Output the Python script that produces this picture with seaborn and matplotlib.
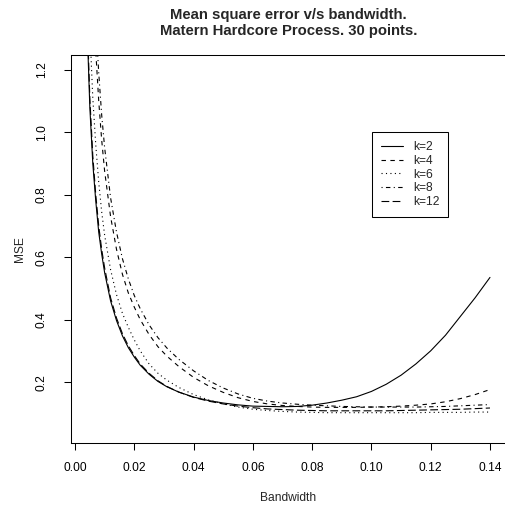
import matplotlib
matplotlib.use("Agg")
import matplotlib.pyplot as plt
import seaborn as sns
import pandas as pd

# ---- data ----
bandwidth = [0.004, 0.005, 0.006, 0.007, 0.008, 0.009, 0.010, 0.012, 0.014, 0.016,
             0.018, 0.020, 0.022, 0.025, 0.028, 0.031, 0.035, 0.040, 0.045, 0.050,
             0.055, 0.060, 0.065, 0.070, 0.075, 0.080, 0.085, 0.090, 0.095, 0.100,
             0.105, 0.110, 0.115, 0.120, 0.125, 0.130, 0.135, 0.140]

mse_k2 = [1.36, 1.08, 0.90, 0.78, 0.68, 0.61, 0.55, 0.46, 0.397, 0.348,
          0.310, 0.280, 0.254, 0.225, 0.202, 0.185, 0.168, 0.152, 0.141, 0.133,
          0.127, 0.123, 0.122, 0.121, 0.122, 0.126, 0.133, 0.142, 0.153, 0.170,
          0.193, 0.222, 0.258, 0.300, 0.350, 0.410, 0.470, 0.535]

mse_k4 = [2.20, 1.76, 1.47, 1.26, 1.10, 0.975, 0.875, 0.73, 0.625, 0.545,
          0.485, 0.440, 0.400, 0.352, 0.313, 0.283, 0.250, 0.215, 0.188, 0.167,
          0.150, 0.138, 0.130, 0.125, 0.122, 0.120, 0.119, 0.119, 0.119, 0.120,
          0.121, 0.123, 0.126, 0.130, 0.137, 0.147, 0.160, 0.176]

mse_k6 = [1.65, 1.33, 1.11, 0.96, 0.84, 0.745, 0.67, 0.56, 0.48, 0.42,
          0.375, 0.335, 0.300, 0.258, 0.228, 0.206, 0.183, 0.160, 0.143, 0.130,
          0.120, 0.113, 0.109, 0.106, 0.104, 0.103, 0.102, 0.102, 0.102, 0.102,
          0.102, 0.102, 0.102, 0.103, 0.103, 0.103, 0.104, 0.104]

mse_k8 = [2.40, 1.90, 1.58, 1.36, 1.19, 1.055, 0.95, 0.79, 0.68, 0.595,
          0.530, 0.477, 0.435, 0.383, 0.342, 0.309, 0.273, 0.236, 0.205, 0.181,
          0.162, 0.148, 0.139, 0.133, 0.129, 0.126, 0.124, 0.122, 0.121, 0.120,
          0.120, 0.120, 0.120, 0.121, 0.122, 0.124, 0.126, 0.128]

mse_k12 = [1.40, 1.11, 0.925, 0.80, 0.70, 0.625, 0.565, 0.47, 0.405, 0.355,
           0.316, 0.285, 0.258, 0.228, 0.204, 0.186, 0.168, 0.151, 0.139, 0.130,
           0.123, 0.118, 0.114, 0.112, 0.110, 0.109, 0.108, 0.108, 0.108, 0.108,
           0.108, 0.109, 0.110, 0.111, 0.112, 0.113, 0.115, 0.117]

series_labels = ["k=2", "k=4", "k=6", "k=8", "k=12"]
x_ticks = [0.00, 0.02, 0.04, 0.06, 0.08, 0.10, 0.12, 0.14]
x_tick_labels = ["0.00", "0.02", "0.04", "0.06", "0.08", "0.10", "0.12", "0.14"]
y_ticks = [0.2, 0.4, 0.6, 0.8, 1.0, 1.2]
y_tick_labels = ["0.2", "0.4", "0.6", "0.8", "1.0", "1.2"]
title_text = "Mean square error v/s bandwidth.\nMatern Hardcore Process. 30 points."
x_label = "Bandwidth"
y_label = "MSE"

# ---- style ----
sns.set_style("white")
plt.rcParams['font.family'] = ['Liberation Sans', 'DejaVu Sans']

series_values = [mse_k2, mse_k4, mse_k6, mse_k8, mse_k12]
linestyles = ['-', (0, (4, 4)), (0, (1, 3)), (0, (1, 3, 4, 3)), (0, (7, 3))]

W, H = 505, 508
fig = plt.figure(figsize=(W / 100, H / 100), dpi=100)
left_px, right_px, top_px, bot_px = 70.5, 506.1, 55.3, 443.3
ax = fig.add_axes([left_px / W, 1 - bot_px / H, (right_px - left_px) / W, (bot_px - top_px) / H])

for lab, vals, ls in zip(series_labels, series_values, linestyles):
    df = pd.DataFrame({"bw": bandwidth, "mse": vals})
    sns.lineplot(data=df, x="bw", y="mse", ax=ax, color="black", lw=0.8,
                 linestyle=ls, label=lab, estimator=None, sort=False)

ax.set_xlim(-0.00152, 0.14544)
ax.set_ylim(0.004, 1.246)

ax.set_xticks(x_ticks)
ax.set_xticklabels(x_tick_labels)
ax.set_yticks(y_ticks)
ax.set_yticklabels(y_tick_labels)
ax.tick_params(axis='both', which='major', direction='out', length=5.3, width=0.75,
               color='black', labelsize=8.64, labelcolor='black', left=True, bottom=True)
ax.tick_params(axis='x', pad=8.0)
ax.tick_params(axis='y', pad=11.0, labelrotation=90)
for t in ax.get_yticklabels():
    t.set_horizontalalignment('right')
    t.set_verticalalignment('center')
ax.set_xlabel("")
ax.set_ylabel("")

for side in ['left', 'bottom', 'top']:
    ax.spines[side].set_visible(True)
    ax.spines[side].set_color('black')
    ax.spines[side].set_linewidth(0.75)
ax.spines['right'].set_visible(False)

leg = ax.legend(loc='upper left', bbox_to_anchor=(372 / W, 1 - 132 / H),
                bbox_transform=fig.transFigure, borderaxespad=0, frameon=True,
                fancybox=False, edgecolor='black', fontsize=8.64,
                handlelength=1.85, handletextpad=0.8, labelspacing=0.15,
                borderpad=0.75)
leg.get_frame().set_linewidth(0.75)
leg.get_frame().set_alpha(1)

cx = (left_px + right_px) / 2 / W
fig.text(cx, 1 - 23 / H, title_text, ha='center', va='center', fontsize=10.75,
         fontweight='bold', linespacing=1.12)
fig.text(cx, 1 - 498 / H, x_label, ha='center', va='center', fontsize=8.64)
fig.text(20 / W, 1 - 249 / H, y_label, ha='center', va='center', fontsize=8.64, rotation=90)

fig.savefig("out.png", dpi=100, facecolor='white')
